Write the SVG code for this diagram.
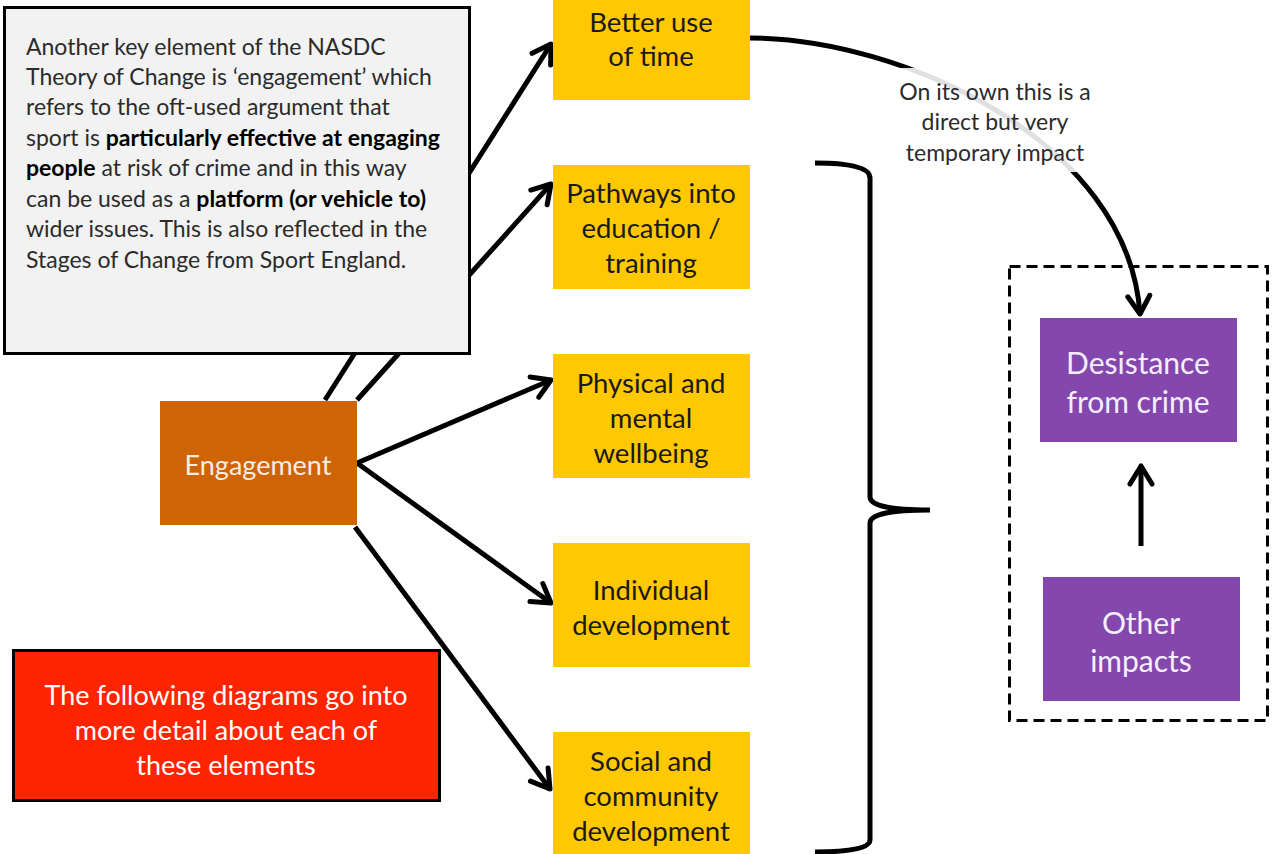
<svg xmlns="http://www.w3.org/2000/svg" width="1279" height="854" viewBox="0 0 1279 854">
<defs>
<marker id="ah" viewBox="0 0 24 28" markerWidth="24" markerHeight="28" refX="21" refY="14" orient="auto" markerUnits="userSpaceOnUse">
<path d="M3,3 L21,14 L3,25" fill="none" stroke="#000" stroke-width="5" stroke-linecap="round" stroke-linejoin="round"/>
</marker>
<style>
.conn{fill:none;stroke:#000;stroke-width:5}
.y{fill:#FFC800}
.yt{font-family:Lato,"Open Sans",sans-serif;font-size:27.5px;fill:#1a1a1a;text-anchor:middle}
.p{fill:#8447AD}
.pt{font-family:Lato,"Open Sans",sans-serif;font-size:30px;fill:#f4eefa;text-anchor:middle}
.body{font-family:Lato,"Open Sans",sans-serif;font-size:23px;fill:#2b2b2b}
.b{font-weight:bold;fill:#000}
.lbl{font-family:Lato,"Open Sans",sans-serif;font-size:23px;fill:#2b2b2b;text-anchor:middle}
.rt{font-family:Lato,"Open Sans",sans-serif;font-size:27px;fill:#fff;text-anchor:middle}
</style>
</defs>
<rect width="1279" height="854" fill="#fff"/>
<g id="connectors">
<line class="conn" x1="325" y1="400" x2="551" y2="44" marker-end="url(#ah)"/>
<line class="conn" x1="357" y1="400" x2="551" y2="184" marker-end="url(#ah)"/>
<line class="conn" x1="357" y1="463" x2="551" y2="380" marker-end="url(#ah)"/>
<line class="conn" x1="357" y1="463" x2="551" y2="603" marker-end="url(#ah)"/>
<line class="conn" x1="355" y1="527" x2="550" y2="789" marker-end="url(#ah)"/>
<path class="conn" d="M750,38 C900,38 1128,140 1140,314" marker-end="url(#ah)"/>
<line class="conn" x1="1141" y1="546" x2="1141" y2="466" marker-end="url(#ah)"/>
<path class="conn" d="M815,163 Q870,163 870,178 L870,497 Q870,510 930,510 Q870,510 870,523 L870,840 Q870,852 815,852"/>
</g>
<g id="note">
<rect x="4.5" y="7.5" width="465" height="346" fill="#f2f2f2" stroke="#000" stroke-width="3"/>
<text class="body" x="26" y="55">Another key element of the NASDC</text>
<text class="body" x="26" y="85">Theory of Change is ‘engagement’ which</text>
<text class="body" x="26" y="115">refers to the oft-used argument that</text>
<text class="body" x="26" y="146">sport is <tspan class="b">particularly effective at engaging</tspan></text>
<text class="body" x="26" y="176"><tspan class="b">people</tspan> at risk of crime and in this way</text>
<text class="body" x="26" y="207">can be used as a <tspan class="b">platform (or vehicle to)</tspan></text>
<text class="body" x="26" y="237">wider issues. This is also reflected in the</text>
<text class="body" x="26" y="268">Stages of Change from Sport England.</text>
</g>
<g id="engagement">
<rect x="160" y="401" width="197" height="124" fill="#CF6407"/>
<text x="258" y="475" font-family="Lato,'Open Sans',sans-serif" font-size="27" fill="#f7ece2" text-anchor="middle">Engagement</text>
</g>
<g id="better-use">
<rect class="y" x="553" y="0" width="197" height="100"/>
<text class="yt" x="651" y="32">Better use</text>
<text class="yt" x="651" y="66">of time</text>
</g>
<g id="pathways">
<rect class="y" x="553" y="165" width="197" height="124"/>
<text class="yt" x="651" y="203">Pathways into</text>
<text class="yt" x="651" y="238">education /</text>
<text class="yt" x="651" y="273">training</text>
</g>
<g id="physical">
<rect class="y" x="553" y="354" width="197" height="124"/>
<text class="yt" x="651" y="393">Physical and</text>
<text class="yt" x="651" y="428">mental</text>
<text class="yt" x="651" y="463">wellbeing</text>
</g>
<g id="individual">
<rect class="y" x="553" y="543" width="197" height="124"/>
<text class="yt" x="651" y="600">Individual</text>
<text class="yt" x="651" y="635">development</text>
</g>
<g id="social">
<rect class="y" x="553" y="732" width="197" height="122"/>
<text class="yt" x="651" y="771">Social and</text>
<text class="yt" x="651" y="806">community</text>
<text class="yt" x="651" y="841">development</text>
</g>
<g id="impact-label">
<rect x="888" y="68" width="214" height="104" fill="#fff" opacity="0.88"/>
<text class="lbl" x="995" y="100">On its own this is a</text>
<text class="lbl" x="995" y="130">direct but very</text>
<text class="lbl" x="995" y="161">temporary impact</text>
</g>
<g id="outcome-group">
<rect x="1009.5" y="266.5" width="258" height="454" fill="none" stroke="#000" stroke-width="3" stroke-dasharray="11 6"/>
</g>
<g id="desistance">
<rect class="p" x="1040" y="318" width="197" height="124"/>
<text class="pt" x="1138" y="374">Desistance</text>
<text class="pt" x="1138" y="413">from crime</text>
</g>
<g id="other-impacts">
<rect class="p" x="1043" y="577" width="197" height="124"/>
<text class="pt" x="1141" y="634">Other</text>
<text class="pt" x="1141" y="672">impacts</text>
</g>
<g id="following">
<rect x="13.5" y="650.5" width="426" height="150" fill="#FF2400" stroke="#000" stroke-width="3"/>
<text class="rt" x="226" y="705">The following diagrams go into</text>
<text class="rt" x="226" y="740">more detail about each of</text>
<text class="rt" x="226" y="775">these elements</text>
</g>
</svg>
